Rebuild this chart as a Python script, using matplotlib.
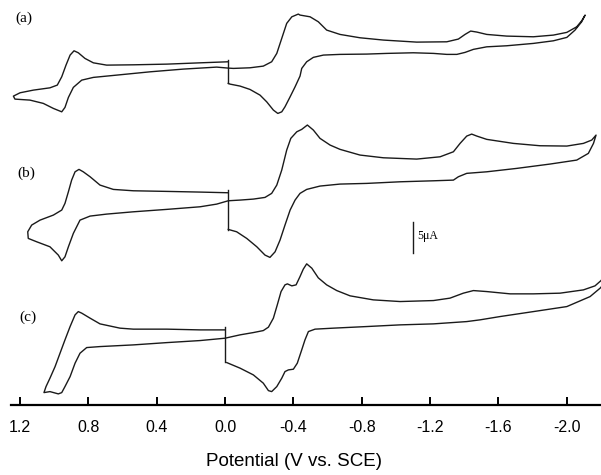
import numpy as np
import matplotlib
matplotlib.use('Agg')
import matplotlib.pyplot as plt

# Cyclic voltammograms (a), (b), (c) ~~~~~~~~~~~~~~~~~~~~~~~~~~~~~~~~~~~~~~~~~~~~~~
# potential in V vs SCE, current in uA relative to the start point of each scan

# (a)
a_v = [-0.019, 0.146, 0.341, 0.537, 0.693, 0.771, 0.820, 0.859, 0.884, 0.907, 0.931, 0.956, 0.982,
       1.025, 1.122, 1.200, 1.239, 1.230, 1.142, 1.064, 1.005, 0.956, 0.937, 0.917, 0.888, 0.839,
       0.771, 0.634, 0.439, 0.244, 0.049, -0.019,
       -0.049, -0.146, -0.224, -0.273, -0.303, -0.332, -0.361, -0.391, -0.429, -0.439, -0.498, -0.546,
       -0.595, -0.673, -0.790, -0.927, -1.122, -1.298, -1.366, -1.405, -1.438, -1.474, -1.532, -1.649,
       -1.805, -1.922, -2.001, -2.059, -2.088, -2.108,
       -2.088, -2.049, -2.001, -1.922, -1.805, -1.649, -1.532, -1.454, -1.405, -1.357, -1.298, -1.220,
       -1.102, -0.947, -0.830, -0.673, -0.576, -0.517, -0.478, -0.449, -0.439, -0.410, -0.381, -0.351,
       -0.332, -0.309, -0.283, -0.244, -0.205, -0.146, -0.088, -0.029, -0.019]
a_i = [3.44, 3.27, 3.06, 2.95, 2.90, 3.27, 3.98, 4.89, 5.21, 4.52, 2.90, 1.02, -0.32,
       -0.76, -1.13, -1.56, -2.10, -2.58, -2.74, -3.27, -4.08, -4.63, -3.92, -2.31, -0.69, 0.48,
       0.92, 1.29, 1.82, 2.26, 2.58, 2.42,
       2.37, 2.47, 2.74, 3.44, 4.79, 7.21, 9.63, 10.69, 11.13, 10.97, 10.69, 9.89,
       8.55, 7.85, 7.31, 6.94, 6.61, 6.66, 7.10, 7.85, 8.39, 8.23, 7.85, 7.58,
       7.47, 7.74, 8.18, 9.08, 10.05, 10.97,
       9.89, 8.55, 7.37, 6.82, 6.40, 6.02, 5.85, 5.44, 4.95, 4.63, 4.63, 4.79,
       4.89, 4.79, 4.68, 4.63, 4.52, 4.15, 3.44, 2.37, 1.13, -0.60, -2.21, -3.82,
       -4.63, -4.89, -4.35, -3.02, -1.94, -1.02, -0.48, -0.16, -0.05]
a_jump = [-0.019, 3.71, -0.05]   # potential, top, bottom of the step at 0 V

# (b)
b_v = [-0.019, 0.146, 0.341, 0.537, 0.654, 0.732, 0.790, 0.830, 0.855, 0.878, 0.898, 0.917, 0.937,
       0.956, 1.005, 1.083, 1.132, 1.155, 1.152, 1.102, 1.025, 0.976, 0.956, 0.937, 0.917, 0.888,
       0.849, 0.790, 0.693, 0.537, 0.341, 0.146, 0.049, -0.019,
       -0.088, -0.166, -0.234, -0.273, -0.303, -0.332, -0.361, -0.385, -0.420, -0.449, -0.482, -0.517,
       -0.556, -0.615, -0.673, -0.790, -0.927, -1.122, -1.259, -1.337, -1.376, -1.415, -1.444, -1.474,
       -1.532, -1.688, -1.844, -2.001, -2.098, -2.147, -2.172,
       -2.157, -2.127, -2.059, -1.903, -1.708, -1.532, -1.415, -1.366, -1.337, -1.220, -1.025, -0.830,
       -0.673, -0.556, -0.478, -0.439, -0.410, -0.381, -0.351, -0.322, -0.293, -0.263, -0.234, -0.186,
       -0.127, -0.068, -0.019]
b_i = [6.02, 6.13, 6.24, 6.34, 6.56, 7.26, 8.60, 9.40, 9.79, 9.40, 8.06, 6.18, 4.31,
       3.23, 2.42, 1.61, 0.81, -0.27, -1.34, -1.89, -2.69, -4.03, -4.95, -4.31, -2.69, -0.53,
       1.61, 2.26, 2.58, 2.95, 3.34, 3.76, 4.19, 4.73,
       4.84, 5.00, 5.27, 5.92, 7.26, 9.68, 12.90, 14.79, 15.85, 16.24, 16.94, 16.13,
       14.79, 13.71, 13.02, 12.10, 11.66, 11.45, 11.82, 12.63, 13.98, 15.16, 15.48, 15.16,
       14.63, 13.98, 13.60, 13.55, 13.98, 14.52, 15.32,
       13.98, 12.37, 11.29, 10.65, 9.95, 9.40, 9.15, 8.60, 8.06, 7.95, 7.79, 7.53,
       7.42, 7.10, 6.56, 5.92, 4.84, 3.23, 0.81, -1.61, -3.50, -4.40, -4.03, -2.69,
       -1.34, -0.27, 0.11]
b_jump = [-0.019, 6.45, 0.0]

# (c)
c_v = [0.000, 0.146, 0.341, 0.537, 0.615, 0.732, 0.790, 0.839, 0.859, 0.878, 0.907, 0.937, 0.966,
       0.995, 1.025, 1.048, 1.060, 1.025, 0.976, 0.956, 0.937, 0.907, 0.878, 0.849, 0.810, 0.732,
       0.537, 0.341, 0.146, 0.000,
       -0.088, -0.166, -0.224, -0.254, -0.283, -0.306, -0.328, -0.351, -0.365, -0.391, -0.416, -0.439,
       -0.458, -0.478, -0.508, -0.546, -0.595, -0.654, -0.732, -0.868, -1.025, -1.220, -1.317, -1.395,
       -1.454, -1.532, -1.669, -1.805, -1.961, -2.098, -2.166, -2.201, -2.231,
       -2.213, -2.196, -2.137, -2.001, -1.805, -1.610, -1.493, -1.415, -1.220, -1.025, -0.830, -0.634,
       -0.527, -0.488, -0.468, -0.449, -0.423, -0.400, -0.371, -0.351, -0.332, -0.303, -0.273, -0.254,
       -0.224, -0.166, -0.088, -0.010]
c_i = [5.11, 5.11, 5.23, 5.23, 5.39, 6.08, 7.00, 7.81, 8.06, 7.53, 5.65, 3.50, 1.35,
       -0.81, -2.68, -4.03, -5.00, -4.84, -5.21, -5.00, -4.03, -2.42, -0.26, 1.35, 2.26, 2.42,
       2.69, 3.06, 3.39, 3.77,
       4.31, 4.68, 5.00, 5.55, 7.00, 9.15, 11.29, 12.37, 12.53, 12.21, 12.37, 13.71,
       14.90, 15.76, 15.06, 13.50, 12.37, 11.45, 10.60, 9.95, 9.68, 9.84, 10.23, 11.03,
       11.45, 11.29, 10.92, 10.92, 11.03, 11.56, 12.21, 13.06, 14.15,
       12.37, 11.84, 10.48, 8.87, 8.06, 7.26, 6.73, 6.45, 6.08, 5.92, 5.65, 5.39,
       5.23, 4.84, 3.50, 1.89, -0.26, -1.23, -1.34, -1.61, -2.68, -4.03, -4.84, -4.68,
       -3.48, -2.15, -1.06, -0.16]
c_jump = [0.0, 5.65, 0.0]

labels = ['(a)', '(b)', '(c)']
offsets = [51.9, 28.2, 7.0]     # vertical stacking of the three scans (uA)
label_pos = [(1.175, 62.4), (1.165, 37.3), (1.155, 14.2)]

xticks = [1.2, 0.8, 0.4, 0.0, -0.4, -0.8, -1.2, -1.6, -2.0]
scale_bar = 5.0   # uA
#~~~~~~~~~~~~~~~~~~~~~~~~~~~~~~~~~~~~~~~~~~~~~~~~~~~~~~~~~~~~~~~~~~~~~~~~~~~~~~~~~~~

fig = plt.figure(figsize=(6.01, 4.75), dpi=100)
ax = fig.add_axes([11/601, 70/475, 590/601, 405/475])

traces = [(a_v, a_i, a_jump), (b_v, b_i, b_jump), (c_v, c_i, c_jump)]
for (v, i, jump), off, lab, pos in zip(traces, offsets, labels, label_pos):
    ax.plot(v, np.array(i) + off, color='#1a1a1a', lw=1.0, clip_on=True)
    ax.plot([jump[0], jump[0]], [jump[1] + off, jump[2] + off], color='#1a1a1a', lw=1.0)
    ax.text(pos[0], pos[1], lab, family='Liberation Serif', fontsize=11, ha='center', va='center')

# 5 uA scale bar
ax.plot([-1.101, -1.101], [24.5, 24.5 + scale_bar], color='#1a1a1a', lw=1.0)
ax.text(-1.125, 27.3, '5\u03bcA', family='Liberation Serif', fontsize=8.5, ha='left', va='center')

ax.set_xlim(1.253, -2.201)
ax.set_ylim(0, 65.3)
ax.set_xticks(xticks)
ax.set_xticklabels(['%.1f' % t if t != 0 else '0.0' for t in xticks])
ax.set_yticks([])
for s in ['left', 'right', 'top']:
    ax.spines[s].set_visible(False)
ax.spines['bottom'].set_linewidth(1.6)
ax.tick_params(axis='x', direction='in', length=6, width=1.4, pad=11, labelsize=11.5)
for t in ax.get_xticklabels():
    t.set_family('Liberation Sans')
ax.set_xlabel('Potential (V vs. SCE)', family='Liberation Sans', fontsize=13.5)
ax.xaxis.set_label_coords(0.480, -0.118)
ax.patch.set_alpha(0)

plt.savefig('out.png', dpi=100)
